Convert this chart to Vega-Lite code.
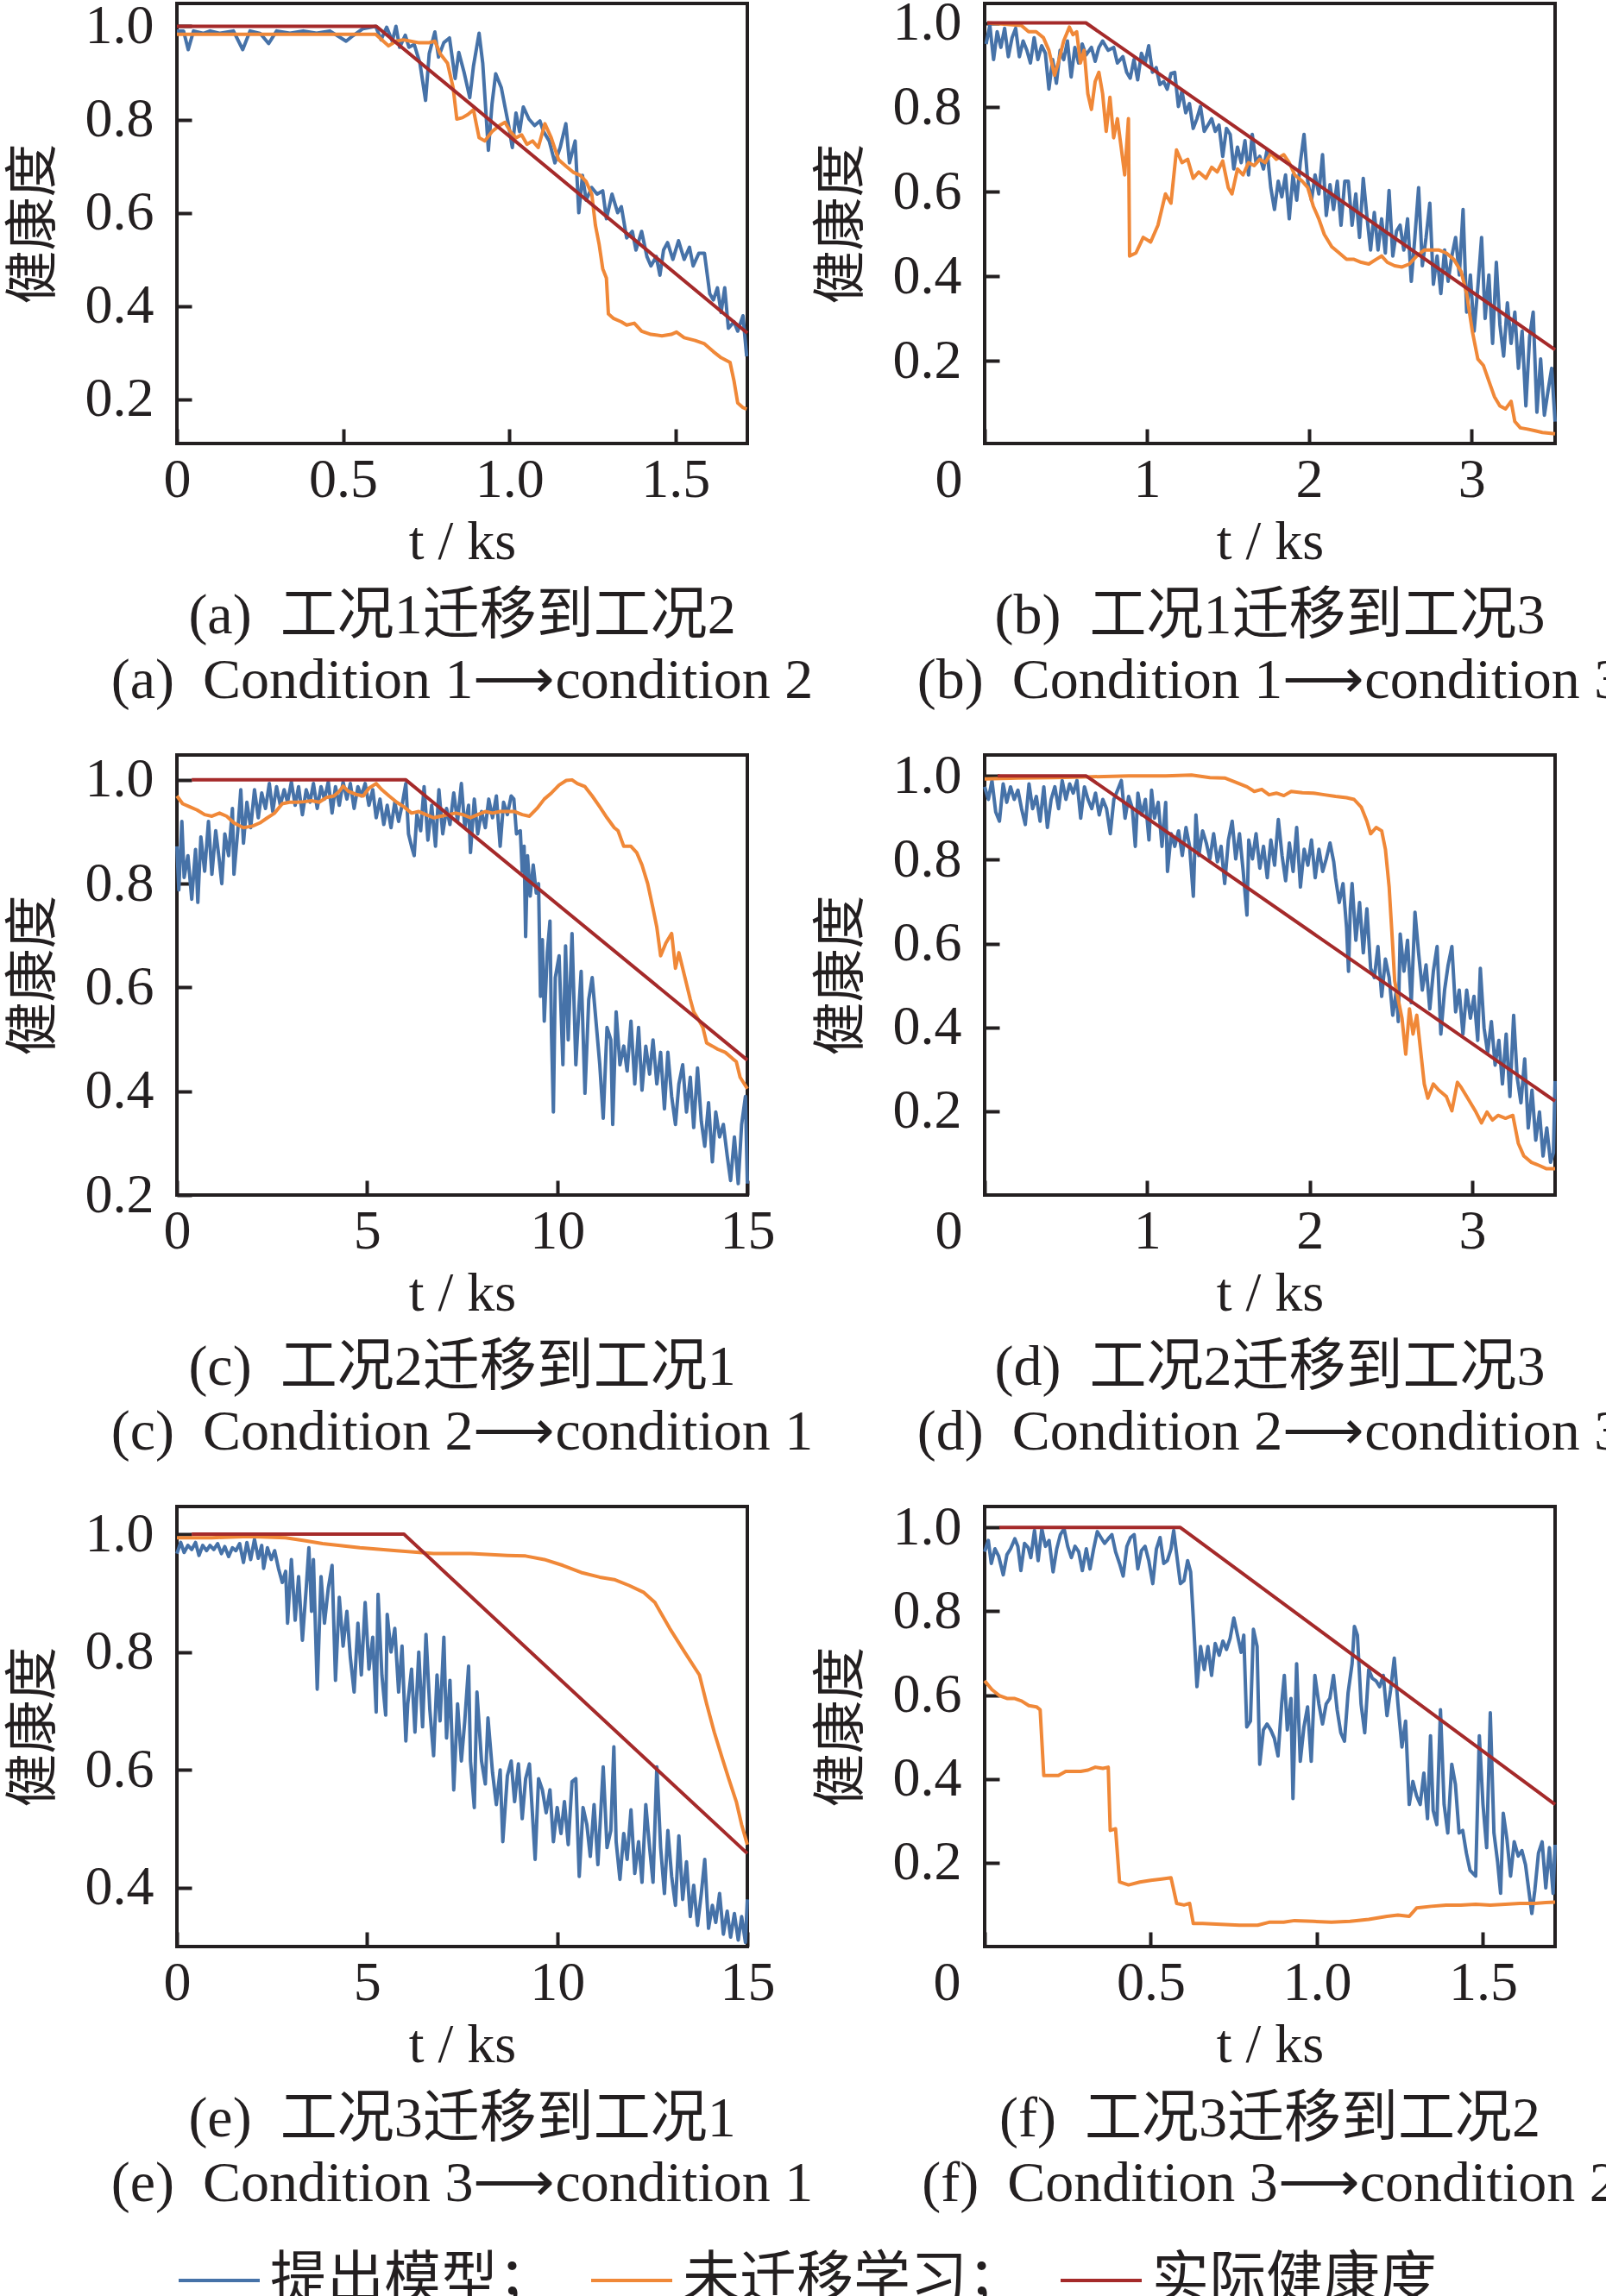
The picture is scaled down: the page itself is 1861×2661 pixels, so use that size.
{
"$schema":"https://vega.github.io/schema/vega-lite/v6.json",
"background":"white",
"padding":{"left":6,"top":-8,"right":0,"bottom":0},
"config":{
"font":"Liberation Serif, Noto Sans CJK SC",
"view":{"stroke":"#231f20","strokeWidth":4},
"axis":{"grid":false,"domain":false,"ticks":true,"tickColor":"#231f20","tickWidth":4,"tickSize":-17,"labelFont":"Liberation Serif","labelFontSize":64,"labelColor":"#231f20","titleFont":"Liberation Serif, Noto Sans CJK SC","titleFontSize":64,"titleFontWeight":"normal","titleColor":"#231f20","labelFlush":false,"labelOverlap":false},
"axisX":{"labelPadding":27,"titlePadding":8},
"axisY":{"labelPadding":44,"titlePadding":27,"titleFontSize":62},
"title":{"orient":"bottom","anchor":"middle","fontSize":66,"fontWeight":"normal","color":"#231f20","font":"Liberation Serif, Noto Sans CJK SC","offset":22,"lineHeight":75,"frame":"group"},
"legend":{"orient":"bottom","direction":"horizontal","symbolType":"stroke","symbolSize":8836,"symbolStrokeWidth":4.5,"labelFontSize":66,"labelFont":"Liberation Serif, Noto Sans CJK SC","labelColor":"#231f20","labelOffset":10,"columnPadding":40,"offset":28,"labelLimit":0},
"line":{"strokeWidth":4,"strokeJoin":"round"}
},
"concat":[
{"data":{"name":"a"},"width":661,"height":510,
"title":{"text":["(a)\u00a0\u00a0工况1迁移到工况2","(a)\u00a0\u00a0Condition 1⟶condition 2"]},
"mark":"line",
"encoding":{
"x":{"field":"t","type":"quantitative","title":"t / ks","scale":{"domain":[0,1.716],"nice":false,"zero":false},"axis":{"values":[0,0.5,1,1.5],"labelExpr":"datum.value == 0 ? '0' : format(datum.value, '.1f')"}},
"y":{"field":"h","type":"quantitative","title":"健康度","scale":{"domain":[0.105,1.049],"nice":false,"zero":false},"axis":{"values":[0.2,0.4,0.6,0.8,1],"format":".1f"}},
"color":{"field":"s","type":"nominal","scale":{"domain":["b","o","r"],"range":["#4672a8","#f08838","#a52a2a"]},"legend":{"title":null,"labelExpr":"datum.label == 'b' ? '提出模型；' : datum.label == 'o' ? '未迁移学习；' : '实际健康度'"}}}},
{"data":{"name":"b"},"width":661,"height":510,
"title":{"text":["(b)\u00a0\u00a0工况1迁移到工况3","(b)\u00a0\u00a0Condition 1⟶condition 3"]},
"mark":"line",
"encoding":{
"x":{"field":"t","type":"quantitative","title":"t / ks","scale":{"domain":[0,3.515],"nice":false,"zero":false},"axis":{"values":[0,1,2,3],"labelOffset":{"condition":{"test":"datum.value == 0","value":-42},"value":0}}},
"y":{"field":"h","type":"quantitative","title":"健康度","scale":{"domain":[0.004,1.046],"nice":false,"zero":false},"axis":{"values":[0.2,0.4,0.6,0.8,1],"format":".1f"}},
"color":{"field":"s","type":"nominal","scale":{"domain":["b","o","r"],"range":["#4672a8","#f08838","#a52a2a"]},"legend":{"title":null,"labelExpr":"datum.label == 'b' ? '提出模型；' : datum.label == 'o' ? '未迁移学习；' : '实际健康度'"}}}},
{"data":{"name":"c"},"width":661,"height":510,
"title":{"text":["(c)\u00a0\u00a0工况2迁移到工况1","(c)\u00a0\u00a0Condition 2⟶condition 1"]},
"mark":"line",
"encoding":{
"x":{"field":"t","type":"quantitative","title":"t / ks","scale":{"domain":[0,15],"nice":false,"zero":false},"axis":{"values":[0,5,10,15]}},
"y":{"field":"h","type":"quantitative","title":"健康度","scale":{"domain":[0.2,1.048],"nice":false,"zero":false},"axis":{"values":[0.2,0.4,0.6,0.8,1],"format":".1f"}},
"color":{"field":"s","type":"nominal","scale":{"domain":["b","o","r"],"range":["#4672a8","#f08838","#a52a2a"]},"legend":{"title":null,"labelExpr":"datum.label == 'b' ? '提出模型；' : datum.label == 'o' ? '未迁移学习；' : '实际健康度'"}}}},
{"data":{"name":"d"},"width":661,"height":510,
"title":{"text":["(d)\u00a0\u00a0工况2迁移到工况3","(d)\u00a0\u00a0Condition 2⟶condition 3"]},
"mark":"line",
"encoding":{
"x":{"field":"t","type":"quantitative","title":"t / ks","scale":{"domain":[0,3.51],"nice":false,"zero":false},"axis":{"values":[0,1,2,3],"labelOffset":{"condition":{"test":"datum.value == 0","value":-42},"value":0}}},
"y":{"field":"h","type":"quantitative","title":"健康度","scale":{"domain":[0,1.05],"nice":false,"zero":false},"axis":{"values":[0.2,0.4,0.6,0.8,1],"format":".1f"}},
"color":{"field":"s","type":"nominal","scale":{"domain":["b","o","r"],"range":["#4672a8","#f08838","#a52a2a"]},"legend":{"title":null,"labelExpr":"datum.label == 'b' ? '提出模型；' : datum.label == 'o' ? '未迁移学习；' : '实际健康度'"}}}},
{"data":{"name":"e"},"width":661,"height":510,
"title":{"text":["(e)\u00a0\u00a0工况3迁移到工况1","(e)\u00a0\u00a0Condition 3⟶condition 1"]},
"mark":"line",
"encoding":{
"x":{"field":"t","type":"quantitative","title":"t / ks","scale":{"domain":[0,15],"nice":false,"zero":false},"axis":{"values":[0,5,10,15]}},
"y":{"field":"h","type":"quantitative","title":"健康度","scale":{"domain":[0.3,1.047],"nice":false,"zero":false},"axis":{"values":[0.4,0.6,0.8,1],"format":".1f"}},
"color":{"field":"s","type":"nominal","scale":{"domain":["b","o","r"],"range":["#4672a8","#f08838","#a52a2a"]},"legend":{"title":null,"labelExpr":"datum.label == 'b' ? '提出模型；' : datum.label == 'o' ? '未迁移学习；' : '实际健康度'"}}}},
{"data":{"name":"f"},"width":661,"height":510,
"title":{"text":["(f)\u00a0\u00a0工况3迁移到工况2","(f)\u00a0\u00a0Condition 3⟶condition 2"]},
"mark":"line",
"encoding":{
"x":{"field":"t","type":"quantitative","title":"t / ks","scale":{"domain":[0,1.717],"nice":false,"zero":false},"axis":{"values":[0,0.5,1,1.5],"labelExpr":"datum.value == 0 ? '0' : format(datum.value, '.1f')","labelOffset":{"condition":{"test":"datum.value == 0","value":-44},"value":0}}},
"y":{"field":"h","type":"quantitative","title":"健康度","scale":{"domain":[0,1.05],"nice":false,"zero":false},"axis":{"values":[0.2,0.4,0.6,0.8,1],"format":".1f"}},
"color":{"field":"s","type":"nominal","scale":{"domain":["b","o","r"],"range":["#4672a8","#f08838","#a52a2a"]},"legend":{"title":null,"labelExpr":"datum.label == 'b' ? '提出模型；' : datum.label == 'o' ? '未迁移学习；' : '实际健康度'"}}}}
],
"columns":2,
"spacing":{"row":361,"column":275},
"bounds":"flush",
"datasets":{
"a":[
{"s":"b","t":0,"h":0.99},{"s":"b","t":0.02,"h":0.99},{"s":"b","t":0.034,"h":0.95},{"s":"b","t":0.05,"h":0.99},{"s":"b","t":0.08,"h":0.985},{"s":"b","t":0.1,"h":0.99},{"s":"b","t":0.13,"h":0.985},{"s":"b","t":0.17,"h":0.99},{"s":"b","t":0.198,"h":0.95},{"s":"b","t":0.22,"h":0.99},{"s":"b","t":0.25,"h":0.985},{"s":"b","t":0.276,"h":0.963},{"s":"b","t":0.3,"h":0.99},{"s":"b","t":0.34,"h":0.985},{"s":"b","t":0.38,"h":0.99},{"s":"b","t":0.42,"h":0.985},{"s":"b","t":0.46,"h":0.99},{"s":"b","t":0.509,"h":0.968},{"s":"b","t":0.53,"h":0.98},{"s":"b","t":0.56,"h":0.995},{"s":"b","t":0.598,"h":1.0},
{"s":"b","t":0.614,"h":0.971},{"s":"b","t":0.631,"h":0.998},{"s":"b","t":0.648,"h":0.968},{"s":"b","t":0.659,"h":1.0},{"s":"b","t":0.67,"h":0.955},{"s":"b","t":0.687,"h":0.981},{"s":"b","t":0.698,"h":0.955},{"s":"b","t":0.714,"h":0.961},{"s":"b","t":0.731,"h":0.921},{"s":"b","t":0.748,"h":0.841},{"s":"b","t":0.759,"h":0.941},{"s":"b","t":0.776,"h":0.988},{"s":"b","t":0.787,"h":0.934},{"s":"b","t":0.803,"h":0.965},{"s":"b","t":0.82,"h":0.975},{"s":"b","t":0.837,"h":0.888},{"s":"b","t":0.848,"h":0.944},{"s":"b","t":0.864,"h":0.901},{"s":"b","t":0.881,"h":0.847},{"s":"b","t":0.892,"h":0.914},{"s":"b","t":0.909,"h":0.985},{"s":"b","t":0.92,"h":0.921},{"s":"b","t":0.937,"h":0.734},{"s":"b","t":0.948,"h":0.834},{"s":"b","t":0.959,"h":0.898},{"s":"b","t":0.976,"h":0.868},{"s":"b","t":0.987,"h":0.827},{"s":"b","t":0.998,"h":0.787},{"s":"b","t":1.009,"h":0.74},{"s":"b","t":1.02,"h":0.814},{"s":"b","t":1.031,"h":0.774},{"s":"b","t":1.042,"h":0.827},{"s":"b","t":1.059,"h":0.801},{"s":"b","t":1.076,"h":0.787},{"s":"b","t":1.092,"h":0.797},{"s":"b","t":1.103,"h":0.774},{"s":"b","t":1.12,"h":0.754},{"s":"b","t":1.137,"h":0.707},{"s":"b","t":1.153,"h":0.74},{"s":"b","t":1.17,"h":0.791},{"s":"b","t":1.181,"h":0.707},{"s":"b","t":1.198,"h":0.754},{"s":"b","t":1.209,"h":0.6},{"s":"b","t":1.22,"h":0.68},{"s":"b","t":1.231,"h":0.627},{"s":"b","t":1.248,"h":0.654},{"s":"b","t":1.264,"h":0.64},{"s":"b","t":1.281,"h":0.647},{"s":"b","t":1.292,"h":0.587},{"s":"b","t":1.309,"h":0.64},{"s":"b","t":1.326,"h":0.6},{"s":"b","t":1.337,"h":0.613},{"s":"b","t":1.353,"h":0.546},{"s":"b","t":1.37,"h":0.56},{"s":"b","t":1.381,"h":0.52},{"s":"b","t":1.398,"h":0.56},{"s":"b","t":1.414,"h":0.506},{"s":"b","t":1.426,"h":0.486},{"s":"b","t":1.442,"h":0.506},{"s":"b","t":1.453,"h":0.466},{"s":"b","t":1.464,"h":0.52},{"s":"b","t":1.476,"h":0.536},{"s":"b","t":1.492,"h":0.5},{"s":"b","t":1.509,"h":0.54},{"s":"b","t":1.526,"h":0.5},{"s":"b","t":1.542,"h":0.526},{"s":"b","t":1.553,"h":0.486},{"s":"b","t":1.57,"h":0.513},{"s":"b","t":1.587,"h":0.513},{"s":"b","t":1.603,"h":0.426},{"s":"b","t":1.614,"h":0.413},{"s":"b","t":1.626,"h":0.439},{"s":"b","t":1.637,"h":0.386},{"s":"b","t":1.648,"h":0.439},{"s":"b","t":1.659,"h":0.352},{"s":"b","t":1.676,"h":0.366},{"s":"b","t":1.687,"h":0.346},{"s":"b","t":1.703,"h":0.379},{"s":"b","t":1.714,"h":0.292},
{"s":"o","t":0,"h":0.983},{"s":"o","t":0.598,"h":0.983},{"s":"o","t":0.637,"h":0.958},{"s":"o","t":0.659,"h":0.968},{"s":"o","t":0.681,"h":0.971},{"s":"o","t":0.703,"h":0.968},{"s":"o","t":0.726,"h":0.965},{"s":"o","t":0.759,"h":0.965},{"s":"o","t":0.776,"h":0.968},{"s":"o","t":0.792,"h":0.941},{"s":"o","t":0.814,"h":0.921},{"s":"o","t":0.831,"h":0.868},{"s":"o","t":0.842,"h":0.801},{"s":"o","t":0.859,"h":0.804},{"s":"o","t":0.876,"h":0.811},{"s":"o","t":0.892,"h":0.821},{"s":"o","t":0.909,"h":0.761},{"s":"o","t":0.926,"h":0.754},{"s":"o","t":0.948,"h":0.774},{"s":"o","t":0.97,"h":0.787},{"s":"o","t":0.987,"h":0.794},{"s":"o","t":1.003,"h":0.774},{"s":"o","t":1.02,"h":0.761},{"s":"o","t":1.037,"h":0.767},{"s":"o","t":1.053,"h":0.747},{"s":"o","t":1.07,"h":0.754},{"s":"o","t":1.087,"h":0.74},{"s":"o","t":1.107,"h":0.791},{"s":"o","t":1.126,"h":0.761},{"s":"o","t":1.148,"h":0.714},{"s":"o","t":1.17,"h":0.7},{"s":"o","t":1.192,"h":0.687},{"s":"o","t":1.214,"h":0.68},{"s":"o","t":1.231,"h":0.667},{"s":"o","t":1.248,"h":0.64},{"s":"o","t":1.259,"h":0.573},{"s":"o","t":1.27,"h":0.533},{"s":"o","t":1.281,"h":0.48},{"s":"o","t":1.292,"h":0.46},{"s":"o","t":1.298,"h":0.383},{"s":"o","t":1.314,"h":0.373},{"s":"o","t":1.337,"h":0.366},{"s":"o","t":1.353,"h":0.359},{"s":"o","t":1.376,"h":0.363},{"s":"o","t":1.398,"h":0.346},{"s":"o","t":1.426,"h":0.339},{"s":"o","t":1.459,"h":0.336},{"s":"o","t":1.487,"h":0.339},{"s":"o","t":1.503,"h":0.344},{"s":"o","t":1.526,"h":0.332},{"s":"o","t":1.559,"h":0.326},{"s":"o","t":1.587,"h":0.319},{"s":"o","t":1.614,"h":0.302},{"s":"o","t":1.637,"h":0.289},{"s":"o","t":1.664,"h":0.279},{"s":"o","t":1.676,"h":0.239},{"s":"o","t":1.687,"h":0.192},{"s":"o","t":1.703,"h":0.182},{"s":"o","t":1.714,"h":0.179},
{"s":"r","t":0,"h":1},{"s":"r","t":0.6,"h":1},{"s":"r","t":1.716,"h":0.342}
],
"b":[
{"s":"b","t":0.009,"h":0.95},{"s":"b","t":0.032,"h":0.994},{"s":"b","t":0.055,"h":0.913},{"s":"b","t":0.077,"h":0.979},{"s":"b","t":0.1,"h":0.942},{"s":"b","t":0.123,"h":0.987},{"s":"b","t":0.146,"h":0.92},{"s":"b","t":0.169,"h":0.965},{"s":"b","t":0.191,"h":0.987},{"s":"b","t":0.214,"h":0.92},{"s":"b","t":0.237,"h":0.957},{"s":"b","t":0.26,"h":0.935},{"s":"b","t":0.282,"h":0.905},{"s":"b","t":0.305,"h":0.965},{"s":"b","t":0.328,"h":0.913},{"s":"b","t":0.351,"h":0.946},{"s":"b","t":0.374,"h":0.928},{"s":"b","t":0.396,"h":0.843},{"s":"b","t":0.419,"h":0.913},{"s":"b","t":0.442,"h":0.857},{"s":"b","t":0.465,"h":0.935},{"s":"b","t":0.487,"h":0.913},{"s":"b","t":0.51,"h":0.957},{"s":"b","t":0.533,"h":0.872},{"s":"b","t":0.556,"h":0.942},{"s":"b","t":0.579,"h":0.905},{"s":"b","t":0.601,"h":0.95},{"s":"b","t":0.624,"h":0.924},{"s":"b","t":0.658,"h":0.942},{"s":"b","t":0.681,"h":0.909},{"s":"b","t":0.704,"h":0.942},{"s":"b","t":0.727,"h":0.957},{"s":"b","t":0.761,"h":0.935},{"s":"b","t":0.795,"h":0.942},{"s":"b","t":0.818,"h":0.905},{"s":"b","t":0.852,"h":0.92},{"s":"b","t":0.875,"h":0.883},{"s":"b","t":0.897,"h":0.869},{"s":"b","t":0.92,"h":0.913},{"s":"b","t":0.943,"h":0.865},{"s":"b","t":0.966,"h":0.928},{"s":"b","t":0.989,"h":0.905},{"s":"b","t":1.011,"h":0.946},{"s":"b","t":1.034,"h":0.883},{"s":"b","t":1.057,"h":0.894},{"s":"b","t":1.08,"h":0.854},{"s":"b","t":1.103,"h":0.861},{"s":"b","t":1.125,"h":0.843},{"s":"b","t":1.148,"h":0.88},{"s":"b","t":1.171,"h":0.883},{"s":"b","t":1.194,"h":0.802},{"s":"b","t":1.216,"h":0.839},{"s":"b","t":1.239,"h":0.787},{"s":"b","t":1.262,"h":0.809},{"s":"b","t":1.285,"h":0.75},{"s":"b","t":1.308,"h":0.773},{"s":"b","t":1.33,"h":0.802},{"s":"b","t":1.353,"h":0.743},{"s":"b","t":1.376,"h":0.758},{"s":"b","t":1.399,"h":0.773},{"s":"b","t":1.421,"h":0.743},{"s":"b","t":1.444,"h":0.758},{"s":"b","t":1.467,"h":0.684},{"s":"b","t":1.49,"h":0.75},{"s":"b","t":1.513,"h":0.736},{"s":"b","t":1.535,"h":0.654},{"s":"b","t":1.558,"h":0.706},{"s":"b","t":1.581,"h":0.669},{"s":"b","t":1.604,"h":0.721},{"s":"b","t":1.626,"h":0.64},{"s":"b","t":1.649,"h":0.736},{"s":"b","t":1.672,"h":0.669},{"s":"b","t":1.695,"h":0.684},{"s":"b","t":1.718,"h":0.654},{"s":"b","t":1.74,"h":0.699},{"s":"b","t":1.763,"h":0.61},{"s":"b","t":1.786,"h":0.558},{"s":"b","t":1.809,"h":0.625},{"s":"b","t":1.831,"h":0.588},{"s":"b","t":1.854,"h":0.64},{"s":"b","t":1.877,"h":0.536},{"s":"b","t":1.9,"h":0.64},{"s":"b","t":1.923,"h":0.58},{"s":"b","t":1.945,"h":0.669},{"s":"b","t":1.968,"h":0.736},{"s":"b","t":1.991,"h":0.625},{"s":"b","t":2.014,"h":0.58},{"s":"b","t":2.036,"h":0.64},{"s":"b","t":2.059,"h":0.595},{"s":"b","t":2.082,"h":0.688},{"s":"b","t":2.105,"h":0.544},{"s":"b","t":2.128,"h":0.617},{"s":"b","t":2.15,"h":0.558},{"s":"b","t":2.173,"h":0.625},{"s":"b","t":2.196,"h":0.521},{"s":"b","t":2.219,"h":0.625},{"s":"b","t":2.241,"h":0.625},{"s":"b","t":2.264,"h":0.521},{"s":"b","t":2.287,"h":0.595},{"s":"b","t":2.31,"h":0.492},{"s":"b","t":2.333,"h":0.632},{"s":"b","t":2.355,"h":0.544},{"s":"b","t":2.378,"h":0.462},{"s":"b","t":2.401,"h":0.551},{"s":"b","t":2.424,"h":0.462},{"s":"b","t":2.446,"h":0.536},{"s":"b","t":2.469,"h":0.455},{"s":"b","t":2.492,"h":0.603},{"s":"b","t":2.515,"h":0.448},{"s":"b","t":2.538,"h":0.507},{"s":"b","t":2.56,"h":0.521},{"s":"b","t":2.583,"h":0.462},{"s":"b","t":2.606,"h":0.536},{"s":"b","t":2.629,"h":0.388},{"s":"b","t":2.651,"h":0.492},{"s":"b","t":2.674,"h":0.61},{"s":"b","t":2.697,"h":0.425},{"s":"b","t":2.72,"h":0.492},{"s":"b","t":2.743,"h":0.573},{"s":"b","t":2.765,"h":0.381},{"s":"b","t":2.788,"h":0.448},{"s":"b","t":2.811,"h":0.359},{"s":"b","t":2.834,"h":0.462},{"s":"b","t":2.856,"h":0.388},{"s":"b","t":2.879,"h":0.448},{"s":"b","t":2.902,"h":0.492},{"s":"b","t":2.925,"h":0.403},{"s":"b","t":2.948,"h":0.558},{"s":"b","t":2.97,"h":0.315},{"s":"b","t":2.993,"h":0.403},{"s":"b","t":3.016,"h":0.27},{"s":"b","t":3.039,"h":0.374},{"s":"b","t":3.062,"h":0.492},{"s":"b","t":3.084,"h":0.3},{"s":"b","t":3.107,"h":0.403},{"s":"b","t":3.13,"h":0.241},{"s":"b","t":3.153,"h":0.433},{"s":"b","t":3.175,"h":0.285},{"s":"b","t":3.198,"h":0.211},{"s":"b","t":3.221,"h":0.337},{"s":"b","t":3.244,"h":0.241},{"s":"b","t":3.267,"h":0.315},{"s":"b","t":3.289,"h":0.182},{"s":"b","t":3.312,"h":0.27},{"s":"b","t":3.335,"h":0.093},{"s":"b","t":3.358,"h":0.256},{"s":"b","t":3.38,"h":0.315},{"s":"b","t":3.403,"h":0.078},{"s":"b","t":3.426,"h":0.204},{"s":"b","t":3.449,"h":0.071},{"s":"b","t":3.472,"h":0.13},{"s":"b","t":3.494,"h":0.182},{"s":"b","t":3.515,"h":0.056},
{"s":"o","t":0.016,"h":1.0},{"s":"o","t":0.226,"h":0.994},{"s":"o","t":0.271,"h":0.979},{"s":"o","t":0.317,"h":0.979},{"s":"o","t":0.362,"h":0.965},{"s":"o","t":0.396,"h":0.935},{"s":"o","t":0.431,"h":0.876},{"s":"o","t":0.453,"h":0.905},{"s":"o","t":0.487,"h":0.957},{"s":"o","t":0.522,"h":0.99},{"s":"o","t":0.544,"h":0.972},{"s":"o","t":0.567,"h":0.979},{"s":"o","t":0.59,"h":0.905},{"s":"o","t":0.613,"h":0.935},{"s":"o","t":0.636,"h":0.832},{"s":"o","t":0.658,"h":0.795},{"s":"o","t":0.681,"h":0.861},{"s":"o","t":0.704,"h":0.883},{"s":"o","t":0.727,"h":0.832},{"s":"o","t":0.749,"h":0.743},{"s":"o","t":0.772,"h":0.824},{"s":"o","t":0.795,"h":0.728},{"s":"o","t":0.818,"h":0.773},{"s":"o","t":0.841,"h":0.706},{"s":"o","t":0.863,"h":0.64},{"s":"o","t":0.886,"h":0.773},{"s":"o","t":0.893,"h":0.448},{"s":"o","t":0.932,"h":0.455},{"s":"o","t":0.977,"h":0.492},{"s":"o","t":1.023,"h":0.481},{"s":"o","t":1.068,"h":0.521},{"s":"o","t":1.114,"h":0.595},{"s":"o","t":1.148,"h":0.573},{"s":"o","t":1.182,"h":0.699},{"s":"o","t":1.216,"h":0.669},{"s":"o","t":1.251,"h":0.677},{"s":"o","t":1.285,"h":0.632},{"s":"o","t":1.319,"h":0.647},{"s":"o","t":1.364,"h":0.632},{"s":"o","t":1.399,"h":0.658},{"s":"o","t":1.433,"h":0.647},{"s":"o","t":1.467,"h":0.673},{"s":"o","t":1.501,"h":0.61},{"s":"o","t":1.524,"h":0.595},{"s":"o","t":1.558,"h":0.654},{"s":"o","t":1.592,"h":0.64},{"s":"o","t":1.626,"h":0.669},{"s":"o","t":1.661,"h":0.662},{"s":"o","t":1.695,"h":0.677},{"s":"o","t":1.729,"h":0.669},{"s":"o","t":1.763,"h":0.691},{"s":"o","t":1.797,"h":0.677},{"s":"o","t":1.843,"h":0.688},{"s":"o","t":1.877,"h":0.669},{"s":"o","t":1.911,"h":0.64},{"s":"o","t":1.957,"h":0.625},{"s":"o","t":1.991,"h":0.61},{"s":"o","t":2.025,"h":0.566},{"s":"o","t":2.059,"h":0.536},{"s":"o","t":2.093,"h":0.499},{"s":"o","t":2.139,"h":0.47},{"s":"o","t":2.185,"h":0.455},{"s":"o","t":2.23,"h":0.44},{"s":"o","t":2.276,"h":0.44},{"s":"o","t":2.321,"h":0.433},{"s":"o","t":2.367,"h":0.429},{"s":"o","t":2.412,"h":0.44},{"s":"o","t":2.446,"h":0.448},{"s":"o","t":2.481,"h":0.433},{"s":"o","t":2.526,"h":0.425},{"s":"o","t":2.572,"h":0.422},{"s":"o","t":2.617,"h":0.429},{"s":"o","t":2.663,"h":0.448},{"s":"o","t":2.708,"h":0.462},{"s":"o","t":2.754,"h":0.462},{"s":"o","t":2.8,"h":0.462},{"s":"o","t":2.845,"h":0.455},{"s":"o","t":2.891,"h":0.44},{"s":"o","t":2.936,"h":0.411},{"s":"o","t":2.97,"h":0.359},{"s":"o","t":3.005,"h":0.27},{"s":"o","t":3.039,"h":0.204},{"s":"o","t":3.073,"h":0.189},{"s":"o","t":3.107,"h":0.152},{"s":"o","t":3.141,"h":0.115},{"s":"o","t":3.175,"h":0.093},{"s":"o","t":3.21,"h":0.086},{"s":"o","t":3.244,"h":0.104},{"s":"o","t":3.267,"h":0.056},{"s":"o","t":3.301,"h":0.041},{"s":"o","t":3.346,"h":0.038},{"s":"o","t":3.392,"h":0.034},{"s":"o","t":3.437,"h":0.03},{"s":"o","t":3.515,"h":0.027},
{"s":"r","t":0.016,"h":1},{"s":"r","t":0.624,"h":1},{"s":"r","t":3.515,"h":0.226}
],
"c":[
{"s":"b","t":0,"h":0.872},{"s":"b","t":0.05,"h":0.788},{"s":"b","t":0.13,"h":0.92},{"s":"b","t":0.19,"h":0.812},{"s":"b","t":0.29,"h":0.854},{"s":"b","t":0.39,"h":0.77},{"s":"b","t":0.49,"h":0.866},{"s":"b","t":0.55,"h":0.764},{"s":"b","t":0.63,"h":0.89},{"s":"b","t":0.73,"h":0.824},{"s":"b","t":0.83,"h":0.92},{"s":"b","t":0.92,"h":0.818},{"s":"b","t":1.02,"h":0.902},{"s":"b","t":1.12,"h":0.842},{"s":"b","t":1.18,"h":0.8},{"s":"b","t":1.26,"h":0.896},{"s":"b","t":1.36,"h":0.854},{"s":"b","t":1.46,"h":0.945},{"s":"b","t":1.5,"h":0.818},{"s":"b","t":1.6,"h":0.902},{"s":"b","t":1.68,"h":0.981},{"s":"b","t":1.75,"h":0.878},{"s":"b","t":1.84,"h":0.957},{"s":"b","t":1.94,"h":0.908},{"s":"b","t":2.04,"h":0.981},{"s":"b","t":2.14,"h":0.927},{"s":"b","t":2.23,"h":0.975},{"s":"b","t":2.33,"h":0.945},{"s":"b","t":2.43,"h":0.993},{"s":"b","t":2.52,"h":0.939},{"s":"b","t":2.62,"h":0.987},{"s":"b","t":2.72,"h":0.951},{"s":"b","t":2.82,"h":0.981},{"s":"b","t":2.91,"h":0.957},{"s":"b","t":3.01,"h":0.996},{"s":"b","t":3.11,"h":0.951},{"s":"b","t":3.2,"h":0.987},{"s":"b","t":3.3,"h":0.933},{"s":"b","t":3.4,"h":0.981},{"s":"b","t":3.5,"h":0.957},{"s":"b","t":3.59,"h":0.993},{"s":"b","t":3.69,"h":0.945},{"s":"b","t":3.79,"h":0.987},{"s":"b","t":3.88,"h":0.963},{"s":"b","t":3.98,"h":0.996},{"s":"b","t":4.08,"h":0.936},{"s":"b","t":4.17,"h":0.987},{"s":"b","t":4.27,"h":0.951},{"s":"b","t":4.37,"h":0.996},{"s":"b","t":4.47,"h":0.963},{"s":"b","t":4.56,"h":0.993},{"s":"b","t":4.66,"h":0.945},{"s":"b","t":4.76,"h":0.987},{"s":"b","t":4.85,"h":0.969},{"s":"b","t":4.95,"h":0.993},{"s":"b","t":5.05,"h":0.951},{"s":"b","t":5.15,"h":0.981},{"s":"b","t":5.24,"h":0.927},{"s":"b","t":5.34,"h":0.963},{"s":"b","t":5.44,"h":0.914},{"s":"b","t":5.53,"h":0.951},{"s":"b","t":5.63,"h":0.908},{"s":"b","t":5.73,"h":0.957},{"s":"b","t":5.83,"h":0.92},{"s":"b","t":5.92,"h":0.951},{"s":"b","t":6.02,"h":0.993},{"s":"b","t":6.09,"h":0.896},{"s":"b","t":6.17,"h":0.872},{"s":"b","t":6.24,"h":0.854},{"s":"b","t":6.31,"h":0.933},{"s":"b","t":6.41,"h":0.902},{"s":"b","t":6.5,"h":0.987},{"s":"b","t":6.6,"h":0.884},{"s":"b","t":6.7,"h":0.951},{"s":"b","t":6.8,"h":0.872},{"s":"b","t":6.89,"h":0.981},{"s":"b","t":6.99,"h":0.896},{"s":"b","t":7.09,"h":0.945},{"s":"b","t":7.18,"h":0.914},{"s":"b","t":7.28,"h":0.975},{"s":"b","t":7.38,"h":0.92},{"s":"b","t":7.48,"h":0.993},{"s":"b","t":7.57,"h":0.908},{"s":"b","t":7.67,"h":0.951},{"s":"b","t":7.72,"h":0.86},{"s":"b","t":7.82,"h":0.963},{"s":"b","t":7.91,"h":0.896},{"s":"b","t":8.01,"h":0.939},{"s":"b","t":8.11,"h":0.908},{"s":"b","t":8.2,"h":0.963},{"s":"b","t":8.3,"h":0.927},{"s":"b","t":8.4,"h":0.969},{"s":"b","t":8.5,"h":0.872},{"s":"b","t":8.59,"h":0.957},{"s":"b","t":8.69,"h":0.933},{"s":"b","t":8.79,"h":0.969},{"s":"b","t":8.86,"h":0.963},{"s":"b","t":8.93,"h":0.896},{"s":"b","t":9.03,"h":0.902},{"s":"b","t":9.08,"h":0.824},{"s":"b","t":9.13,"h":0.872},{"s":"b","t":9.17,"h":0.698},{"s":"b","t":9.22,"h":0.854},{"s":"b","t":9.29,"h":0.776},{"s":"b","t":9.37,"h":0.836},{"s":"b","t":9.45,"h":0.782},{"s":"b","t":9.51,"h":0.8},{"s":"b","t":9.56,"h":0.583},{"s":"b","t":9.61,"h":0.692},{"s":"b","t":9.66,"h":0.535},{"s":"b","t":9.74,"h":0.667},{"s":"b","t":9.81,"h":0.728},{"s":"b","t":9.85,"h":0.511},{"s":"b","t":9.9,"h":0.36},{"s":"b","t":9.95,"h":0.619},{"s":"b","t":10.05,"h":0.661},{"s":"b","t":10.15,"h":0.451},{"s":"b","t":10.22,"h":0.68},{"s":"b","t":10.29,"h":0.499},{"s":"b","t":10.39,"h":0.704},{"s":"b","t":10.49,"h":0.451},{"s":"b","t":10.58,"h":0.571},{"s":"b","t":10.63,"h":0.631},{"s":"b","t":10.73,"h":0.396},{"s":"b","t":10.83,"h":0.577},{"s":"b","t":10.92,"h":0.619},{"s":"b","t":11.02,"h":0.535},{"s":"b","t":11.12,"h":0.451},{"s":"b","t":11.21,"h":0.348},{"s":"b","t":11.31,"h":0.523},{"s":"b","t":11.41,"h":0.499},{"s":"b","t":11.46,"h":0.336},{"s":"b","t":11.55,"h":0.553},{"s":"b","t":11.65,"h":0.451},{"s":"b","t":11.75,"h":0.487},{"s":"b","t":11.84,"h":0.439},{"s":"b","t":11.94,"h":0.535},{"s":"b","t":12.04,"h":0.414},{"s":"b","t":12.14,"h":0.523},{"s":"b","t":12.23,"h":0.402},{"s":"b","t":12.33,"h":0.487},{"s":"b","t":12.43,"h":0.433},{"s":"b","t":12.52,"h":0.499},{"s":"b","t":12.62,"h":0.414},{"s":"b","t":12.72,"h":0.475},{"s":"b","t":12.82,"h":0.366},{"s":"b","t":12.91,"h":0.475},{"s":"b","t":13.01,"h":0.39},{"s":"b","t":13.11,"h":0.336},{"s":"b","t":13.2,"h":0.414},{"s":"b","t":13.3,"h":0.451},{"s":"b","t":13.4,"h":0.36},{"s":"b","t":13.5,"h":0.427},{"s":"b","t":13.59,"h":0.33},{"s":"b","t":13.69,"h":0.445},{"s":"b","t":13.79,"h":0.342},{"s":"b","t":13.88,"h":0.294},{"s":"b","t":13.98,"h":0.378},{"s":"b","t":14.08,"h":0.264},{"s":"b","t":14.17,"h":0.36},{"s":"b","t":14.27,"h":0.312},{"s":"b","t":14.37,"h":0.336},{"s":"b","t":14.47,"h":0.276},{"s":"b","t":14.56,"h":0.228},{"s":"b","t":14.66,"h":0.312},{"s":"b","t":14.76,"h":0.222},{"s":"b","t":14.85,"h":0.336},{"s":"b","t":14.95,"h":0.39},{"s":"b","t":15,"h":0.222},
{"s":"o","t":0,"h":0.969},{"s":"o","t":0.15,"h":0.954},{"s":"o","t":0.34,"h":0.948},{"s":"o","t":0.53,"h":0.942},{"s":"o","t":0.73,"h":0.933},{"s":"o","t":0.92,"h":0.93},{"s":"o","t":1.12,"h":0.936},{"s":"o","t":1.31,"h":0.93},{"s":"o","t":1.5,"h":0.917},{"s":"o","t":1.75,"h":0.908},{"s":"o","t":1.99,"h":0.911},{"s":"o","t":2.18,"h":0.917},{"s":"o","t":2.38,"h":0.927},{"s":"o","t":2.57,"h":0.936},{"s":"o","t":2.77,"h":0.954},{"s":"o","t":2.96,"h":0.957},{"s":"o","t":3.16,"h":0.957},{"s":"o","t":3.35,"h":0.958},{"s":"o","t":3.54,"h":0.96},{"s":"o","t":3.74,"h":0.957},{"s":"o","t":3.93,"h":0.966},{"s":"o","t":4.13,"h":0.969},{"s":"o","t":4.27,"h":0.978},{"s":"o","t":4.37,"h":0.988},{"s":"o","t":4.51,"h":0.978},{"s":"o","t":4.71,"h":0.972},{"s":"o","t":4.9,"h":0.969},{"s":"o","t":5.05,"h":0.984},{"s":"o","t":5.24,"h":0.993},{"s":"o","t":5.39,"h":0.981},{"s":"o","t":5.58,"h":0.969},{"s":"o","t":5.78,"h":0.957},{"s":"o","t":5.97,"h":0.948},{"s":"o","t":6.17,"h":0.936},{"s":"o","t":6.36,"h":0.939},{"s":"o","t":6.55,"h":0.933},{"s":"o","t":6.75,"h":0.927},{"s":"o","t":6.94,"h":0.93},{"s":"o","t":7.14,"h":0.933},{"s":"o","t":7.33,"h":0.936},{"s":"o","t":7.52,"h":0.933},{"s":"o","t":7.72,"h":0.927},{"s":"o","t":7.91,"h":0.933},{"s":"o","t":8.11,"h":0.939},{"s":"o","t":8.3,"h":0.936},{"s":"o","t":8.5,"h":0.939},{"s":"o","t":8.69,"h":0.939},{"s":"o","t":8.88,"h":0.939},{"s":"o","t":9.08,"h":0.933},{"s":"o","t":9.27,"h":0.93},{"s":"o","t":9.47,"h":0.945},{"s":"o","t":9.66,"h":0.963},{"s":"o","t":9.85,"h":0.975},{"s":"o","t":10.05,"h":0.99},{"s":"o","t":10.24,"h":0.999},{"s":"o","t":10.39,"h":1.0},{"s":"o","t":10.53,"h":0.993},{"s":"o","t":10.73,"h":0.987},{"s":"o","t":10.92,"h":0.969},{"s":"o","t":11.12,"h":0.948},{"s":"o","t":11.31,"h":0.927},{"s":"o","t":11.5,"h":0.908},{"s":"o","t":11.6,"h":0.902},{"s":"o","t":11.75,"h":0.872},{"s":"o","t":11.94,"h":0.872},{"s":"o","t":12.09,"h":0.86},{"s":"o","t":12.23,"h":0.836},{"s":"o","t":12.38,"h":0.8},{"s":"o","t":12.52,"h":0.752},{"s":"o","t":12.62,"h":0.716},{"s":"o","t":12.72,"h":0.661},{"s":"o","t":12.86,"h":0.686},{"s":"o","t":13.01,"h":0.704},{"s":"o","t":13.11,"h":0.637},{"s":"o","t":13.2,"h":0.667},{"s":"o","t":13.3,"h":0.637},{"s":"o","t":13.4,"h":0.607},{"s":"o","t":13.5,"h":0.577},{"s":"o","t":13.59,"h":0.553},{"s":"o","t":13.74,"h":0.535},{"s":"o","t":13.83,"h":0.523},{"s":"o","t":13.93,"h":0.493},{"s":"o","t":14.08,"h":0.487},{"s":"o","t":14.22,"h":0.481},{"s":"o","t":14.42,"h":0.475},{"s":"o","t":14.61,"h":0.463},{"s":"o","t":14.71,"h":0.457},{"s":"o","t":14.81,"h":0.427},{"s":"o","t":15,"h":0.405},
{"s":"r","t":0.39,"h":1},{"s":"r","t":6.02,"h":1},{"s":"r","t":15,"h":0.46}
],
"d":[
{"s":"b","t":0,"h":0.974},{"s":"b","t":0.023,"h":0.944},{"s":"b","t":0.045,"h":0.989},{"s":"b","t":0.068,"h":0.914},{"s":"b","t":0.091,"h":0.892},{"s":"b","t":0.114,"h":0.981},{"s":"b","t":0.136,"h":0.937},{"s":"b","t":0.159,"h":0.974},{"s":"b","t":0.182,"h":0.944},{"s":"b","t":0.205,"h":0.966},{"s":"b","t":0.227,"h":0.922},{"s":"b","t":0.25,"h":0.884},{"s":"b","t":0.273,"h":0.981},{"s":"b","t":0.295,"h":0.922},{"s":"b","t":0.318,"h":0.951},{"s":"b","t":0.341,"h":0.892},{"s":"b","t":0.364,"h":0.974},{"s":"b","t":0.386,"h":0.877},{"s":"b","t":0.409,"h":0.944},{"s":"b","t":0.432,"h":0.974},{"s":"b","t":0.455,"h":0.922},{"s":"b","t":0.477,"h":0.989},{"s":"b","t":0.5,"h":0.944},{"s":"b","t":0.523,"h":0.981},{"s":"b","t":0.545,"h":0.959},{"s":"b","t":0.568,"h":0.989},{"s":"b","t":0.591,"h":0.899},{"s":"b","t":0.614,"h":0.974},{"s":"b","t":0.636,"h":0.944},{"s":"b","t":0.659,"h":0.922},{"s":"b","t":0.682,"h":0.959},{"s":"b","t":0.705,"h":0.907},{"s":"b","t":0.727,"h":0.944},{"s":"b","t":0.75,"h":0.922},{"s":"b","t":0.773,"h":0.862},{"s":"b","t":0.795,"h":0.944},{"s":"b","t":0.818,"h":0.966},{"s":"b","t":0.841,"h":0.989},{"s":"b","t":0.864,"h":0.899},{"s":"b","t":0.886,"h":0.951},{"s":"b","t":0.909,"h":0.922},{"s":"b","t":0.927,"h":0.832},{"s":"b","t":0.943,"h":0.959},{"s":"b","t":0.966,"h":0.907},{"s":"b","t":0.989,"h":0.944},{"s":"b","t":1.011,"h":0.847},{"s":"b","t":1.027,"h":0.966},{"s":"b","t":1.045,"h":0.899},{"s":"b","t":1.068,"h":0.937},{"s":"b","t":1.091,"h":0.832},{"s":"b","t":1.114,"h":0.937},{"s":"b","t":1.125,"h":0.772},{"s":"b","t":1.148,"h":0.862},{"s":"b","t":1.17,"h":0.832},{"s":"b","t":1.193,"h":0.869},{"s":"b","t":1.216,"h":0.81},{"s":"b","t":1.239,"h":0.877},{"s":"b","t":1.261,"h":0.832},{"s":"b","t":1.284,"h":0.713},{"s":"b","t":1.3,"h":0.907},{"s":"b","t":1.318,"h":0.81},{"s":"b","t":1.341,"h":0.869},{"s":"b","t":1.364,"h":0.84},{"s":"b","t":1.386,"h":0.802},{"s":"b","t":1.409,"h":0.862},{"s":"b","t":1.432,"h":0.795},{"s":"b","t":1.455,"h":0.832},{"s":"b","t":1.477,"h":0.743},{"s":"b","t":1.5,"h":0.847},{"s":"b","t":1.523,"h":0.892},{"s":"b","t":1.545,"h":0.802},{"s":"b","t":1.568,"h":0.862},{"s":"b","t":1.591,"h":0.772},{"s":"b","t":1.614,"h":0.668},{"s":"b","t":1.625,"h":0.847},{"s":"b","t":1.648,"h":0.802},{"s":"b","t":1.67,"h":0.862},{"s":"b","t":1.693,"h":0.78},{"s":"b","t":1.716,"h":0.832},{"s":"b","t":1.739,"h":0.757},{"s":"b","t":1.761,"h":0.847},{"s":"b","t":1.784,"h":0.787},{"s":"b","t":1.807,"h":0.896},{"s":"b","t":1.83,"h":0.81},{"s":"b","t":1.852,"h":0.75},{"s":"b","t":1.875,"h":0.84},{"s":"b","t":1.898,"h":0.772},{"s":"b","t":1.92,"h":0.877},{"s":"b","t":1.943,"h":0.735},{"s":"b","t":1.966,"h":0.825},{"s":"b","t":1.989,"h":0.787},{"s":"b","t":2.011,"h":0.847},{"s":"b","t":2.034,"h":0.757},{"s":"b","t":2.057,"h":0.825},{"s":"b","t":2.08,"h":0.772},{"s":"b","t":2.102,"h":0.802},{"s":"b","t":2.125,"h":0.84},{"s":"b","t":2.148,"h":0.795},{"s":"b","t":2.159,"h":0.757},{"s":"b","t":2.182,"h":0.698},{"s":"b","t":2.205,"h":0.743},{"s":"b","t":2.227,"h":0.638},{"s":"b","t":2.239,"h":0.534},{"s":"b","t":2.25,"h":0.683},{"s":"b","t":2.261,"h":0.743},{"s":"b","t":2.284,"h":0.608},{"s":"b","t":2.307,"h":0.698},{"s":"b","t":2.33,"h":0.578},{"s":"b","t":2.352,"h":0.683},{"s":"b","t":2.375,"h":0.541},{"s":"b","t":2.398,"h":0.519},{"s":"b","t":2.42,"h":0.593},{"s":"b","t":2.443,"h":0.474},{"s":"b","t":2.466,"h":0.563},{"s":"b","t":2.489,"h":0.519},{"s":"b","t":2.511,"h":0.429},{"s":"b","t":2.534,"h":0.489},{"s":"b","t":2.545,"h":0.414},{"s":"b","t":2.557,"h":0.623},{"s":"b","t":2.58,"h":0.534},{"s":"b","t":2.602,"h":0.608},{"s":"b","t":2.625,"h":0.459},{"s":"b","t":2.648,"h":0.675},{"s":"b","t":2.67,"h":0.578},{"s":"b","t":2.693,"h":0.489},{"s":"b","t":2.716,"h":0.549},{"s":"b","t":2.739,"h":0.444},{"s":"b","t":2.761,"h":0.534},{"s":"b","t":2.784,"h":0.593},{"s":"b","t":2.807,"h":0.384},{"s":"b","t":2.83,"h":0.489},{"s":"b","t":2.852,"h":0.549},{"s":"b","t":2.875,"h":0.593},{"s":"b","t":2.898,"h":0.437},{"s":"b","t":2.92,"h":0.489},{"s":"b","t":2.943,"h":0.384},{"s":"b","t":2.966,"h":0.489},{"s":"b","t":2.989,"h":0.422},{"s":"b","t":3.011,"h":0.474},{"s":"b","t":3.034,"h":0.369},{"s":"b","t":3.05,"h":0.541},{"s":"b","t":3.073,"h":0.399},{"s":"b","t":3.095,"h":0.34},{"s":"b","t":3.118,"h":0.414},{"s":"b","t":3.141,"h":0.31},{"s":"b","t":3.164,"h":0.369},{"s":"b","t":3.186,"h":0.265},{"s":"b","t":3.209,"h":0.384},{"s":"b","t":3.232,"h":0.235},{"s":"b","t":3.255,"h":0.429},{"s":"b","t":3.277,"h":0.28},{"s":"b","t":3.3,"h":0.22},{"s":"b","t":3.323,"h":0.325},{"s":"b","t":3.345,"h":0.16},{"s":"b","t":3.368,"h":0.25},{"s":"b","t":3.391,"h":0.131},{"s":"b","t":3.414,"h":0.198},{"s":"b","t":3.436,"h":0.093},{"s":"b","t":3.459,"h":0.16},{"s":"b","t":3.482,"h":0.078},{"s":"b","t":3.5,"h":0.101},{"s":"b","t":3.51,"h":0.272},
{"s":"o","t":0,"h":0.993},{"s":"o","t":0.205,"h":0.995},{"s":"o","t":0.432,"h":0.996},{"s":"o","t":0.659,"h":0.998},{"s":"o","t":0.886,"h":1.0},{"s":"o","t":1.114,"h":1.0},{"s":"o","t":1.273,"h":1.002},{"s":"o","t":1.386,"h":0.996},{"s":"o","t":1.477,"h":0.995},{"s":"o","t":1.545,"h":0.985},{"s":"o","t":1.614,"h":0.974},{"s":"o","t":1.659,"h":0.963},{"s":"o","t":1.705,"h":0.968},{"s":"o","t":1.75,"h":0.955},{"s":"o","t":1.795,"h":0.959},{"s":"o","t":1.841,"h":0.953},{"s":"o","t":1.886,"h":0.963},{"s":"o","t":1.955,"h":0.96},{"s":"o","t":2.023,"h":0.959},{"s":"o","t":2.091,"h":0.955},{"s":"o","t":2.159,"h":0.951},{"s":"o","t":2.227,"h":0.948},{"s":"o","t":2.273,"h":0.944},{"s":"o","t":2.318,"h":0.925},{"s":"o","t":2.352,"h":0.892},{"s":"o","t":2.375,"h":0.862},{"s":"o","t":2.409,"h":0.877},{"s":"o","t":2.443,"h":0.869},{"s":"o","t":2.466,"h":0.825},{"s":"o","t":2.489,"h":0.735},{"s":"o","t":2.511,"h":0.593},{"s":"o","t":2.523,"h":0.511},{"s":"o","t":2.545,"h":0.466},{"s":"o","t":2.568,"h":0.422},{"s":"o","t":2.591,"h":0.336},{"s":"o","t":2.614,"h":0.444},{"s":"o","t":2.636,"h":0.384},{"s":"o","t":2.659,"h":0.429},{"s":"o","t":2.682,"h":0.347},{"s":"o","t":2.705,"h":0.265},{"s":"o","t":2.727,"h":0.231},{"s":"o","t":2.761,"h":0.265},{"s":"o","t":2.795,"h":0.25},{"s":"o","t":2.841,"h":0.235},{"s":"o","t":2.875,"h":0.201},{"s":"o","t":2.909,"h":0.269},{"s":"o","t":2.932,"h":0.257},{"s":"o","t":2.977,"h":0.228},{"s":"o","t":3.023,"h":0.198},{"s":"o","t":3.057,"h":0.172},{"s":"o","t":3.091,"h":0.198},{"s":"o","t":3.125,"h":0.179},{"s":"o","t":3.159,"h":0.19},{"s":"o","t":3.205,"h":0.183},{"s":"o","t":3.25,"h":0.19},{"s":"o","t":3.284,"h":0.123},{"s":"o","t":3.318,"h":0.093},{"s":"o","t":3.364,"h":0.078},{"s":"o","t":3.409,"h":0.071},{"s":"o","t":3.455,"h":0.063},{"s":"o","t":3.51,"h":0.063},
{"s":"r","t":0.08,"h":1},{"s":"r","t":0.625,"h":1},{"s":"r","t":3.51,"h":0.224}
],
"e":[
{"s":"b","t":0,"h":0.967},{"s":"b","t":0.1,"h":0.986},{"s":"b","t":0.19,"h":0.969},{"s":"b","t":0.29,"h":0.981},{"s":"b","t":0.39,"h":0.974},{"s":"b","t":0.49,"h":0.986},{"s":"b","t":0.58,"h":0.964},{"s":"b","t":0.68,"h":0.981},{"s":"b","t":0.78,"h":0.972},{"s":"b","t":0.87,"h":0.981},{"s":"b","t":0.97,"h":0.974},{"s":"b","t":1.07,"h":0.984},{"s":"b","t":1.17,"h":0.967},{"s":"b","t":1.26,"h":0.979},{"s":"b","t":1.36,"h":0.962},{"s":"b","t":1.46,"h":0.977},{"s":"b","t":1.55,"h":0.972},{"s":"b","t":1.65,"h":0.984},{"s":"b","t":1.75,"h":0.952},{"s":"b","t":1.84,"h":0.986},{"s":"b","t":1.94,"h":0.957},{"s":"b","t":2.04,"h":0.991},{"s":"b","t":2.14,"h":0.959},{"s":"b","t":2.23,"h":0.981},{"s":"b","t":2.28,"h":0.942},{"s":"b","t":2.38,"h":0.977},{"s":"b","t":2.48,"h":0.957},{"s":"b","t":2.57,"h":0.972},{"s":"b","t":2.67,"h":0.942},{"s":"b","t":2.77,"h":0.918},{"s":"b","t":2.86,"h":0.937},{"s":"b","t":2.91,"h":0.849},{"s":"b","t":3.01,"h":0.957},{"s":"b","t":3.11,"h":0.854},{"s":"b","t":3.2,"h":0.928},{"s":"b","t":3.3,"h":0.82},{"s":"b","t":3.4,"h":0.908},{"s":"b","t":3.47,"h":0.977},{"s":"b","t":3.54,"h":0.869},{"s":"b","t":3.59,"h":0.957},{"s":"b","t":3.69,"h":0.737},{"s":"b","t":3.79,"h":0.928},{"s":"b","t":3.88,"h":0.849},{"s":"b","t":3.98,"h":0.908},{"s":"b","t":4.08,"h":0.947},{"s":"b","t":4.17,"h":0.752},{"s":"b","t":4.27,"h":0.893},{"s":"b","t":4.37,"h":0.81},{"s":"b","t":4.47,"h":0.869},{"s":"b","t":4.56,"h":0.791},{"s":"b","t":4.66,"h":0.732},{"s":"b","t":4.76,"h":0.849},{"s":"b","t":4.85,"h":0.761},{"s":"b","t":4.95,"h":0.884},{"s":"b","t":5.05,"h":0.771},{"s":"b","t":5.15,"h":0.825},{"s":"b","t":5.24,"h":0.698},{"s":"b","t":5.29,"h":0.898},{"s":"b","t":5.39,"h":0.761},{"s":"b","t":5.49,"h":0.693},{"s":"b","t":5.53,"h":0.864},{"s":"b","t":5.63,"h":0.8},{"s":"b","t":5.73,"h":0.84},{"s":"b","t":5.83,"h":0.732},{"s":"b","t":5.92,"h":0.81},{"s":"b","t":6.02,"h":0.649},{"s":"b","t":6.07,"h":0.712},{"s":"b","t":6.17,"h":0.771},{"s":"b","t":6.26,"h":0.664},{"s":"b","t":6.36,"h":0.8},{"s":"b","t":6.46,"h":0.673},{"s":"b","t":6.55,"h":0.83},{"s":"b","t":6.65,"h":0.703},{"s":"b","t":6.75,"h":0.624},{"s":"b","t":6.84,"h":0.761},{"s":"b","t":6.92,"h":0.683},{"s":"b","t":7.02,"h":0.825},{"s":"b","t":7.09,"h":0.654},{"s":"b","t":7.18,"h":0.752},{"s":"b","t":7.28,"h":0.566},{"s":"b","t":7.38,"h":0.712},{"s":"b","t":7.48,"h":0.615},{"s":"b","t":7.57,"h":0.683},{"s":"b","t":7.67,"h":0.776},{"s":"b","t":7.72,"h":0.615},{"s":"b","t":7.82,"h":0.536},{"s":"b","t":7.89,"h":0.732},{"s":"b","t":8.01,"h":0.615},{"s":"b","t":8.11,"h":0.576},{"s":"b","t":8.18,"h":0.688},{"s":"b","t":8.3,"h":0.595},{"s":"b","t":8.4,"h":0.541},{"s":"b","t":8.5,"h":0.6},{"s":"b","t":8.57,"h":0.478},{"s":"b","t":8.69,"h":0.59},{"s":"b","t":8.79,"h":0.615},{"s":"b","t":8.88,"h":0.546},{"s":"b","t":8.98,"h":0.61},{"s":"b","t":9.08,"h":0.517},{"s":"b","t":9.17,"h":0.585},{"s":"b","t":9.27,"h":0.61},{"s":"b","t":9.42,"h":0.448},{"s":"b","t":9.51,"h":0.585},{"s":"b","t":9.61,"h":0.566},{"s":"b","t":9.71,"h":0.527},{"s":"b","t":9.81,"h":0.566},{"s":"b","t":9.9,"h":0.478},{"s":"b","t":10,"h":0.536},{"s":"b","t":10.1,"h":0.492},{"s":"b","t":10.19,"h":0.546},{"s":"b","t":10.29,"h":0.473},{"s":"b","t":10.39,"h":0.58},{"s":"b","t":10.49,"h":0.585},{"s":"b","t":10.58,"h":0.419},{"s":"b","t":10.68,"h":0.536},{"s":"b","t":10.78,"h":0.507},{"s":"b","t":10.87,"h":0.453},{"s":"b","t":10.97,"h":0.541},{"s":"b","t":11.07,"h":0.439},{"s":"b","t":11.21,"h":0.605},{"s":"b","t":11.31,"h":0.468},{"s":"b","t":11.41,"h":0.497},{"s":"b","t":11.49,"h":0.639},{"s":"b","t":11.55,"h":0.478},{"s":"b","t":11.65,"h":0.414},{"s":"b","t":11.75,"h":0.492},{"s":"b","t":11.84,"h":0.448},{"s":"b","t":11.94,"h":0.532},{"s":"b","t":12.04,"h":0.424},{"s":"b","t":12.14,"h":0.478},{"s":"b","t":12.23,"h":0.409},{"s":"b","t":12.33,"h":0.541},{"s":"b","t":12.43,"h":0.468},{"s":"b","t":12.52,"h":0.409},{"s":"b","t":12.62,"h":0.605},{"s":"b","t":12.72,"h":0.468},{"s":"b","t":12.82,"h":0.39},{"s":"b","t":12.91,"h":0.497},{"s":"b","t":13.01,"h":0.419},{"s":"b","t":13.11,"h":0.37},{"s":"b","t":13.2,"h":0.488},{"s":"b","t":13.3,"h":0.38},{"s":"b","t":13.4,"h":0.444},{"s":"b","t":13.5,"h":0.351},{"s":"b","t":13.59,"h":0.404},{"s":"b","t":13.69,"h":0.336},{"s":"b","t":13.79,"h":0.39},{"s":"b","t":13.88,"h":0.448},{"s":"b","t":13.98,"h":0.331},{"s":"b","t":14.08,"h":0.37},{"s":"b","t":14.17,"h":0.341},{"s":"b","t":14.27,"h":0.39},{"s":"b","t":14.37,"h":0.321},{"s":"b","t":14.47,"h":0.36},{"s":"b","t":14.56,"h":0.316},{"s":"b","t":14.66,"h":0.356},{"s":"b","t":14.76,"h":0.311},{"s":"b","t":14.85,"h":0.351},{"s":"b","t":14.95,"h":0.307},{"s":"b","t":15,"h":0.38},
{"s":"o","t":0,"h":0.994},{"s":"o","t":0.92,"h":0.994},{"s":"o","t":1.89,"h":0.996},{"s":"o","t":2.86,"h":0.994},{"s":"o","t":3.35,"h":0.989},{"s":"o","t":3.83,"h":0.984},{"s":"o","t":4.81,"h":0.977},{"s":"o","t":5.78,"h":0.972},{"s":"o","t":6.75,"h":0.967},{"s":"o","t":7.72,"h":0.967},{"s":"o","t":8.69,"h":0.964},{"s":"o","t":9.17,"h":0.963},{"s":"o","t":9.66,"h":0.957},{"s":"o","t":10.15,"h":0.947},{"s":"o","t":10.63,"h":0.935},{"s":"o","t":11.12,"h":0.927},{"s":"o","t":11.5,"h":0.923},{"s":"o","t":11.89,"h":0.913},{"s":"o","t":12.28,"h":0.901},{"s":"o","t":12.57,"h":0.884},{"s":"o","t":12.96,"h":0.84},{"s":"o","t":13.35,"h":0.8},{"s":"o","t":13.74,"h":0.761},{"s":"o","t":13.93,"h":0.712},{"s":"o","t":14.13,"h":0.664},{"s":"o","t":14.32,"h":0.624},{"s":"o","t":14.51,"h":0.585},{"s":"o","t":14.71,"h":0.546},{"s":"o","t":14.85,"h":0.507},{"s":"o","t":15,"h":0.473},
{"s":"r","t":0.39,"h":1},{"s":"r","t":5.97,"h":1},{"s":"r","t":15,"h":0.458}
],
"f":[
{"s":"b","t":0,"h":0.942},{"s":"b","t":0.011,"h":0.969},{"s":"b","t":0.02,"h":0.914},{"s":"b","t":0.031,"h":0.949},{"s":"b","t":0.042,"h":0.932},{"s":"b","t":0.056,"h":0.887},{"s":"b","t":0.067,"h":0.935},{"s":"b","t":0.078,"h":0.949},{"s":"b","t":0.091,"h":0.973},{"s":"b","t":0.1,"h":0.955},{"s":"b","t":0.109,"h":0.897},{"s":"b","t":0.12,"h":0.962},{"s":"b","t":0.131,"h":0.952},{"s":"b","t":0.139,"h":0.928},{"s":"b","t":0.15,"h":0.993},{"s":"b","t":0.161,"h":0.921},{"s":"b","t":0.172,"h":0.997},{"s":"b","t":0.183,"h":0.955},{"s":"b","t":0.194,"h":0.969},{"s":"b","t":0.206,"h":0.894},{"s":"b","t":0.217,"h":0.949},{"s":"b","t":0.228,"h":0.983},{"s":"b","t":0.239,"h":0.997},{"s":"b","t":0.25,"h":0.955},{"s":"b","t":0.261,"h":0.928},{"s":"b","t":0.272,"h":0.955},{"s":"b","t":0.283,"h":0.942},{"s":"b","t":0.294,"h":0.897},{"s":"b","t":0.306,"h":0.949},{"s":"b","t":0.317,"h":0.901},{"s":"b","t":0.328,"h":0.949},{"s":"b","t":0.339,"h":0.99},{"s":"b","t":0.35,"h":0.976},{"s":"b","t":0.361,"h":0.962},{"s":"b","t":0.372,"h":0.973},{"s":"b","t":0.383,"h":0.983},{"s":"b","t":0.394,"h":0.942},{"s":"b","t":0.406,"h":0.914},{"s":"b","t":0.417,"h":0.884},{"s":"b","t":0.428,"h":0.955},{"s":"b","t":0.439,"h":0.976},{"s":"b","t":0.45,"h":0.983},{"s":"b","t":0.461,"h":0.901},{"s":"b","t":0.472,"h":0.945},{"s":"b","t":0.483,"h":0.955},{"s":"b","t":0.494,"h":0.921},{"s":"b","t":0.506,"h":0.866},{"s":"b","t":0.517,"h":0.949},{"s":"b","t":0.528,"h":0.976},{"s":"b","t":0.539,"h":0.914},{"s":"b","t":0.55,"h":0.921},{"s":"b","t":0.561,"h":0.949},{"s":"b","t":0.569,"h":0.993},{"s":"b","t":0.578,"h":0.935},{"s":"b","t":0.589,"h":0.866},{"s":"b","t":0.6,"h":0.873},{"s":"b","t":0.611,"h":0.921},{"s":"b","t":0.62,"h":0.894},{"s":"b","t":0.628,"h":0.784},{"s":"b","t":0.639,"h":0.62},{"s":"b","t":0.65,"h":0.716},{"s":"b","t":0.661,"h":0.661},{"s":"b","t":0.672,"h":0.716},{"s":"b","t":0.683,"h":0.647},{"s":"b","t":0.694,"h":0.723},{"s":"b","t":0.706,"h":0.695},{"s":"b","t":0.717,"h":0.729},{"s":"b","t":0.728,"h":0.709},{"s":"b","t":0.739,"h":0.736},{"s":"b","t":0.75,"h":0.784},{"s":"b","t":0.761,"h":0.743},{"s":"b","t":0.772,"h":0.702},{"s":"b","t":0.78,"h":0.743},{"s":"b","t":0.789,"h":0.524},{"s":"b","t":0.8,"h":0.538},{"s":"b","t":0.809,"h":0.757},{"s":"b","t":0.82,"h":0.716},{"s":"b","t":0.828,"h":0.435},{"s":"b","t":0.839,"h":0.517},{"s":"b","t":0.85,"h":0.531},{"s":"b","t":0.861,"h":0.517},{"s":"b","t":0.872,"h":0.497},{"s":"b","t":0.883,"h":0.455},{"s":"b","t":0.894,"h":0.579},{"s":"b","t":0.902,"h":0.647},{"s":"b","t":0.911,"h":0.517},{"s":"b","t":0.922,"h":0.592},{"s":"b","t":0.928,"h":0.353},{"s":"b","t":0.939,"h":0.675},{"s":"b","t":0.95,"h":0.442},{"s":"b","t":0.961,"h":0.524},{"s":"b","t":0.972,"h":0.572},{"s":"b","t":0.983,"h":0.442},{"s":"b","t":0.994,"h":0.647},{"s":"b","t":1.006,"h":0.579},{"s":"b","t":1.017,"h":0.531},{"s":"b","t":1.028,"h":0.579},{"s":"b","t":1.039,"h":0.592},{"s":"b","t":1.05,"h":0.647},{"s":"b","t":1.061,"h":0.565},{"s":"b","t":1.072,"h":0.51},{"s":"b","t":1.083,"h":0.49},{"s":"b","t":1.094,"h":0.606},{"s":"b","t":1.106,"h":0.675},{"s":"b","t":1.113,"h":0.764},{"s":"b","t":1.122,"h":0.743},{"s":"b","t":1.133,"h":0.579},{"s":"b","t":1.144,"h":0.51},{"s":"b","t":1.156,"h":0.661},{"s":"b","t":1.167,"h":0.64},{"s":"b","t":1.178,"h":0.634},{"s":"b","t":1.189,"h":0.62},{"s":"b","t":1.2,"h":0.647},{"s":"b","t":1.211,"h":0.551},{"s":"b","t":1.222,"h":0.613},{"s":"b","t":1.233,"h":0.688},{"s":"b","t":1.244,"h":0.579},{"s":"b","t":1.256,"h":0.476},{"s":"b","t":1.267,"h":0.538},{"s":"b","t":1.278,"h":0.339},{"s":"b","t":1.289,"h":0.394},{"s":"b","t":1.3,"h":0.36},{"s":"b","t":1.311,"h":0.339},{"s":"b","t":1.322,"h":0.414},{"s":"b","t":1.333,"h":0.305},{"s":"b","t":1.342,"h":0.503},{"s":"b","t":1.35,"h":0.325},{"s":"b","t":1.361,"h":0.291},{"s":"b","t":1.372,"h":0.565},{"s":"b","t":1.383,"h":0.339},{"s":"b","t":1.394,"h":0.271},{"s":"b","t":1.406,"h":0.435},{"s":"b","t":1.417,"h":0.387},{"s":"b","t":1.428,"h":0.271},{"s":"b","t":1.439,"h":0.277},{"s":"b","t":1.45,"h":0.223},{"s":"b","t":1.461,"h":0.182},{"s":"b","t":1.478,"h":0.168},{"s":"b","t":1.489,"h":0.503},{"s":"b","t":1.5,"h":0.339},{"s":"b","t":1.511,"h":0.236},{"s":"b","t":1.522,"h":0.558},{"s":"b","t":1.533,"h":0.271},{"s":"b","t":1.544,"h":0.202},{"s":"b","t":1.553,"h":0.127},{"s":"b","t":1.561,"h":0.318},{"s":"b","t":1.572,"h":0.257},{"s":"b","t":1.583,"h":0.168},{"s":"b","t":1.594,"h":0.25},{"s":"b","t":1.606,"h":0.216},{"s":"b","t":1.617,"h":0.229},{"s":"b","t":1.628,"h":0.195},{"s":"b","t":1.639,"h":0.127},{"s":"b","t":1.647,"h":0.079},{"s":"b","t":1.656,"h":0.134},{"s":"b","t":1.667,"h":0.223},{"s":"b","t":1.678,"h":0.25},{"s":"b","t":1.689,"h":0.14},{"s":"b","t":1.7,"h":0.236},{"s":"b","t":1.711,"h":0.127},{"s":"b","t":1.717,"h":0.243},
{"s":"o","t":0,"h":0.634},{"s":"o","t":0.022,"h":0.613},{"s":"o","t":0.044,"h":0.599},{"s":"o","t":0.067,"h":0.592},{"s":"o","t":0.089,"h":0.592},{"s":"o","t":0.111,"h":0.586},{"s":"o","t":0.133,"h":0.575},{"s":"o","t":0.156,"h":0.572},{"s":"o","t":0.167,"h":0.565},{"s":"o","t":0.178,"h":0.408},{"s":"o","t":0.2,"h":0.408},{"s":"o","t":0.222,"h":0.408},{"s":"o","t":0.244,"h":0.418},{"s":"o","t":0.267,"h":0.418},{"s":"o","t":0.289,"h":0.418},{"s":"o","t":0.311,"h":0.421},{"s":"o","t":0.333,"h":0.428},{"s":"o","t":0.356,"h":0.425},{"s":"o","t":0.372,"h":0.428},{"s":"o","t":0.378,"h":0.277},{"s":"o","t":0.394,"h":0.281},{"s":"o","t":0.406,"h":0.154},{"s":"o","t":0.433,"h":0.147},{"s":"o","t":0.467,"h":0.154},{"s":"o","t":0.5,"h":0.158},{"s":"o","t":0.533,"h":0.161},{"s":"o","t":0.561,"h":0.164},{"s":"o","t":0.578,"h":0.103},{"s":"o","t":0.6,"h":0.099},{"s":"o","t":0.617,"h":0.103},{"s":"o","t":0.628,"h":0.055},{"s":"o","t":0.656,"h":0.055},{"s":"o","t":0.711,"h":0.053},{"s":"o","t":0.767,"h":0.051},{"s":"o","t":0.822,"h":0.051},{"s":"o","t":0.856,"h":0.058},{"s":"o","t":0.9,"h":0.058},{"s":"o","t":0.933,"h":0.062},{"s":"o","t":0.989,"h":0.06},{"s":"o","t":1.044,"h":0.058},{"s":"o","t":1.1,"h":0.06},{"s":"o","t":1.156,"h":0.065},{"s":"o","t":1.211,"h":0.072},{"s":"o","t":1.244,"h":0.075},{"s":"o","t":1.278,"h":0.072},{"s":"o","t":1.3,"h":0.092},{"s":"o","t":1.344,"h":0.096},{"s":"o","t":1.389,"h":0.099},{"s":"o","t":1.433,"h":0.099},{"s":"o","t":1.478,"h":0.101},{"s":"o","t":1.522,"h":0.099},{"s":"o","t":1.567,"h":0.101},{"s":"o","t":1.611,"h":0.103},{"s":"o","t":1.656,"h":0.103},{"s":"o","t":1.689,"h":0.105},{"s":"o","t":1.717,"h":0.106},
{"s":"r","t":0.044,"h":1},{"s":"r","t":0.589,"h":1},{"s":"r","t":1.717,"h":0.339}
]
}
}
